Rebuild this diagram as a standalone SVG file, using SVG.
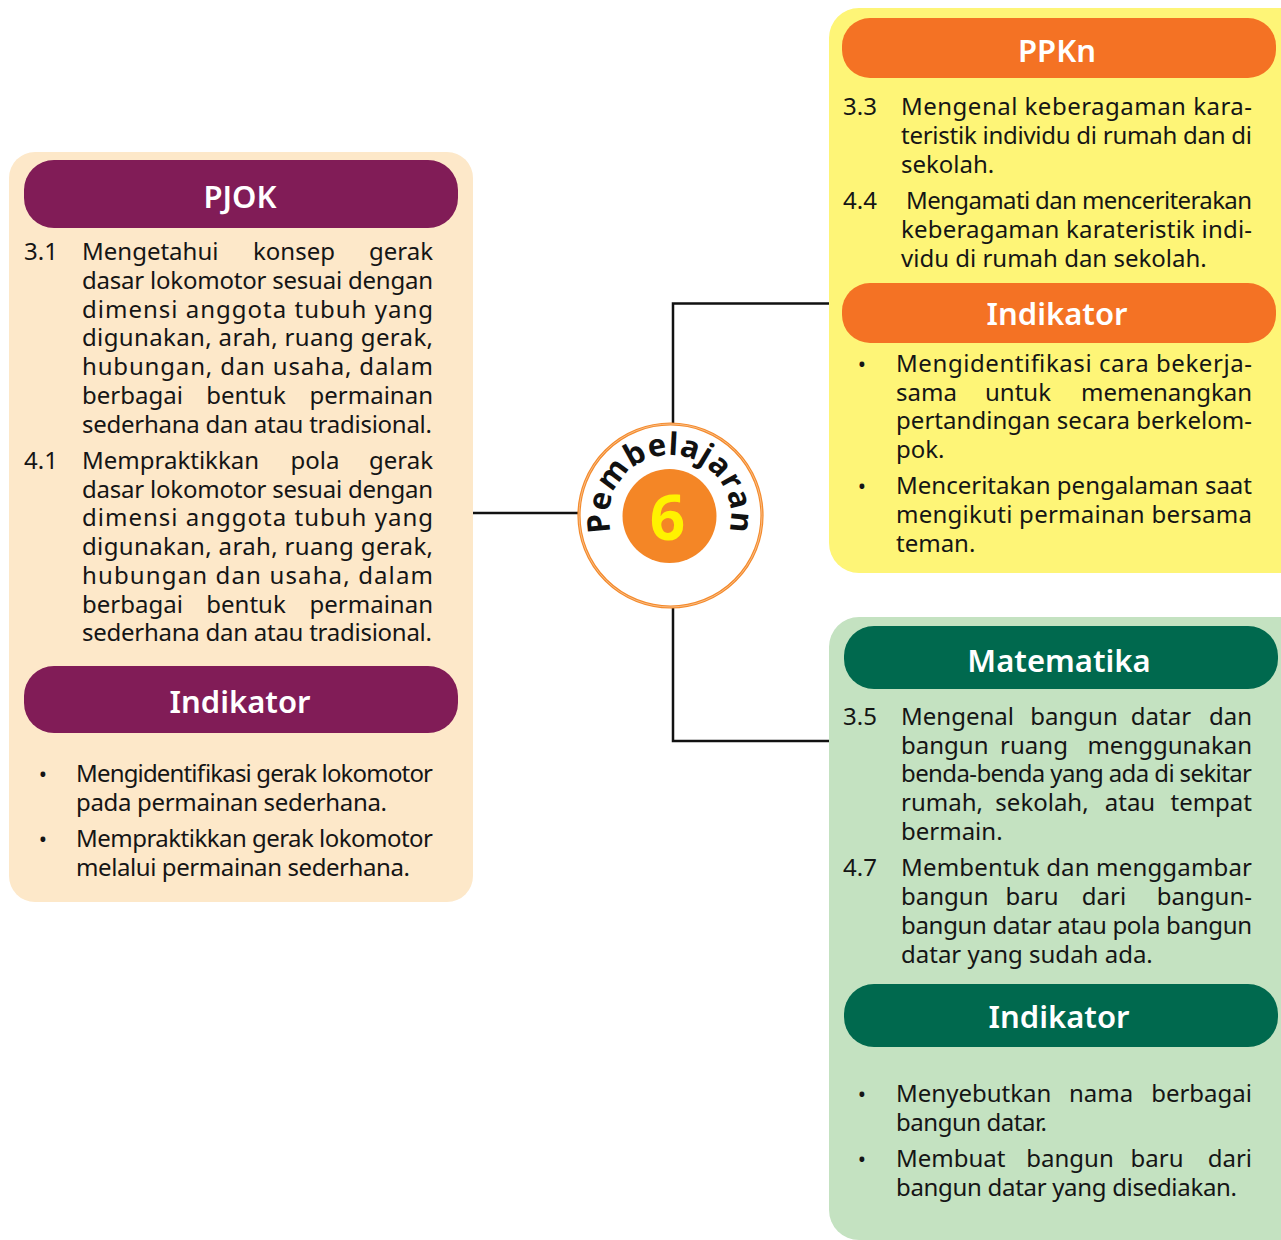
<svg xmlns="http://www.w3.org/2000/svg" width="1281" height="1240" viewBox="0 0 1281 1240">
<defs>
<style>
.b{font-family:"Noto Sans","Open Sans",sans-serif;font-size:24px;fill:#151515}
.m{text-anchor:middle}
.e{text-anchor:end}
.h{font-family:"Noto Sans","Open Sans",sans-serif;font-size:31px;font-weight:600;fill:#ffffff;text-anchor:middle}
.bu{font-family:"Noto Sans","Open Sans",sans-serif;font-size:22px;fill:#151515;text-anchor:middle}
.c{fill:none;stroke:#111111;stroke-width:2.5}
</style>
<path id="arc" d="M612,534.9 A61,61 0 1 1 728,534.9"/>
</defs>
<rect width="1281" height="1240" fill="#ffffff"/>

<g id="connectors">
<path class="c" d="M673,424 V303.5 H829"/>
<path class="c" d="M473,513 H579"/>
<path class="c" d="M673,607 V741 H829"/>
</g>

<g id="pjok">
<rect x="9" y="152" width="464" height="750" rx="26" fill="#fde8c9"/>
<rect x="24" y="160" width="434" height="68" rx="30" fill="#811c57"/>
<text class="h" x="240" y="208">PJOK</text>
<text class="b" x="24" y="260">3.1</text>
<text class="b" x="82" y="260">Mengetahui</text>
<text class="b m" x="294" y="260">konsep</text>
<text class="b e" x="433" y="260">gerak</text>
<text class="b" x="82" y="288.8" textLength="351" lengthAdjust="spacing">dasar lokomotor sesuai dengan</text>
<text class="b" x="82" y="317.6" textLength="351" lengthAdjust="spacing">dimensi anggota tubuh yang</text>
<text class="b" x="82" y="346.4" textLength="351" lengthAdjust="spacing">digunakan, arah, ruang  gerak,</text>
<text class="b" x="82" y="375.2" textLength="351" lengthAdjust="spacing">hubungan, dan usaha, dalam</text>
<text class="b" x="82" y="404">berbagai</text>
<text class="b m" x="246" y="404">bentuk</text>
<text class="b e" x="433" y="404">permainan</text>
<text class="b" x="82" y="432.8" textLength="350" lengthAdjust="spacing">sederhana dan atau tradisional.</text>
<text class="b" x="24" y="469">4.1</text>
<text class="b" x="82" y="469">Mempraktikkan</text>
<text class="b m" x="315" y="469">pola</text>
<text class="b e" x="433" y="469">gerak</text>
<text class="b" x="82" y="497.7" textLength="351" lengthAdjust="spacing">dasar lokomotor sesuai dengan</text>
<text class="b" x="82" y="526.4" textLength="351" lengthAdjust="spacing">dimensi anggota tubuh yang</text>
<text class="b" x="82" y="555.1" textLength="351" lengthAdjust="spacing">digunakan, arah, ruang gerak,</text>
<text class="b" x="82" y="583.8" textLength="351" lengthAdjust="spacing">hubungan dan usaha, dalam</text>
<text class="b" x="82" y="612.5">berbagai</text>
<text class="b m" x="246" y="612.5">bentuk</text>
<text class="b e" x="433" y="612.5">permainan</text>
<text class="b" x="82" y="641.2" textLength="350" lengthAdjust="spacing">sederhana dan atau tradisional.</text>
</g>

<g id="pjok-indikator">
<rect x="24" y="666" width="434" height="67" rx="30" fill="#811c57"/>
<text class="h" x="240" y="713">Indikator</text>
<text class="bu" x="43" y="782">•</text>
<text class="b" x="76" y="782" textLength="357" lengthAdjust="spacing">Mengidentifikasi gerak lokomotor</text>
<text class="b" x="76" y="811" textLength="311" lengthAdjust="spacing">pada permainan sederhana.</text>
<text class="bu" x="43" y="847">•</text>
<text class="b" x="76" y="847" textLength="357" lengthAdjust="spacing">Mempraktikkan gerak lokomotor</text>
<text class="b" x="76" y="876" textLength="334" lengthAdjust="spacing">melalui permainan sederhana.</text>
</g>

<g id="ppkn">
<rect x="829" y="8" width="480" height="565" rx="30" fill="#fef577"/>
<rect x="842" y="18" width="434" height="60" rx="28" fill="#f47224"/>
<text class="h" x="1057" y="62">PPKn</text>
<text class="b" x="843" y="115">3.3</text>
<text class="b" x="901" y="115" textLength="351" lengthAdjust="spacing">Mengenal keberagaman kara-</text>
<text class="b" x="901" y="144" textLength="351" lengthAdjust="spacing">teristik individu di rumah dan di</text>
<text class="b" x="901" y="173">sekolah.</text>
<text class="b" x="843" y="209">4.4</text>
<text class="b" x="906" y="209" textLength="346" lengthAdjust="spacing">Mengamati dan menceriterakan</text>
<text class="b" x="901" y="238" textLength="351" lengthAdjust="spacing">keberagaman karateristik indi-</text>
<text class="b" x="901" y="267">vidu di rumah dan sekolah.</text>
</g>

<g id="ppkn-indikator">
<rect x="842" y="283" width="434" height="60" rx="28" fill="#f47224"/>
<text class="h" x="1057" y="325">Indikator</text>
<text class="bu" x="862" y="372">•</text>
<text class="b" x="896" y="372" textLength="356" lengthAdjust="spacing">Mengidentifikasi cara bekerja-</text>
<text class="b" x="896" y="401">sama</text>
<text class="b m" x="1018" y="401">untuk</text>
<text class="b e" x="1252" y="401">memenangkan</text>
<text class="b" x="896" y="429" textLength="356" lengthAdjust="spacing">pertandingan secara berkelom-</text>
<text class="b" x="896" y="458">pok.</text>
<text class="bu" x="862" y="494">•</text>
<text class="b" x="896" y="494" textLength="356" lengthAdjust="spacing">Menceritakan pengalaman saat</text>
<text class="b" x="896" y="523" textLength="356" lengthAdjust="spacing">mengikuti permainan bersama</text>
<text class="b" x="896" y="552">teman.</text>
</g>

<g id="matematika">
<rect x="829" y="617" width="480" height="623" rx="30" fill="#c4e2c1"/>
<rect x="844" y="626" width="434" height="63" rx="30" fill="#00694e"/>
<text class="h" x="1059" y="672">Matematika</text>
<text class="b" x="843" y="725">3.5</text>
<text class="b" x="901" y="725">Mengenal</text>
<text class="b m" x="1074" y="725">bangun</text>
<text class="b m" x="1161" y="725">datar</text>
<text class="b e" x="1252" y="725">dan</text>
<text class="b" x="901" y="754">bangun</text>
<text class="b m" x="1034" y="754">ruang</text>
<text class="b e" x="1252" y="754">menggunakan</text>
<text class="b" x="901" y="782" textLength="351" lengthAdjust="spacing">benda-benda yang ada di sekitar</text>
<text class="b" x="901" y="811">rumah,</text>
<text class="b m" x="1042" y="811">sekolah,</text>
<text class="b m" x="1130" y="811">atau</text>
<text class="b e" x="1252" y="811">tempat</text>
<text class="b" x="901" y="840">bermain.</text>
<text class="b" x="843" y="876">4.7</text>
<text class="b" x="901" y="876" textLength="351" lengthAdjust="spacing">Membentuk dan menggambar</text>
<text class="b" x="901" y="905">bangun</text>
<text class="b m" x="1032" y="905">baru</text>
<text class="b m" x="1104" y="905">dari</text>
<text class="b e" x="1252" y="905">bangun-</text>
<text class="b" x="901" y="934" textLength="351" lengthAdjust="spacing">bangun datar atau pola bangun</text>
<text class="b" x="901" y="963">datar yang sudah ada.</text>
</g>

<g id="matematika-indikator">
<rect x="844" y="984" width="434" height="63" rx="30" fill="#00694e"/>
<text class="h" x="1059" y="1028">Indikator</text>
<text class="bu" x="862" y="1102">•</text>
<text class="b" x="896" y="1102">Menyebutkan</text>
<text class="b m" x="1101" y="1102">nama</text>
<text class="b e" x="1252" y="1102">berbagai</text>
<text class="b" x="896" y="1131" textLength="151" lengthAdjust="spacing">bangun datar.</text>
<text class="bu" x="862" y="1167">•</text>
<text class="b" x="896" y="1167">Membuat</text>
<text class="b m" x="1070" y="1167">bangun</text>
<text class="b m" x="1157" y="1167">baru</text>
<text class="b e" x="1252" y="1167">dari</text>
<text class="b" x="896" y="1196" textLength="341" lengthAdjust="spacing">bangun datar yang disediakan.</text>
</g>

<g id="pembelajaran">
<circle cx="670.5" cy="515.5" r="91.5" fill="#ffffff" stroke="#f48a2b" stroke-width="3.2"/>
<circle cx="670.5" cy="515.5" r="91.5" fill="none" stroke="#fbd3ae" stroke-width="0.7"/>
<circle cx="669.5" cy="516" r="47" fill="#f48626"/>
<text font-family="Noto Sans,Open Sans,sans-serif" font-size="31" font-weight="700" fill="#111111" letter-spacing="0.8"><textPath href="#arc" startOffset="50%" text-anchor="middle">Pembelajaran</textPath></text>
<text x="667.5" y="540" font-family="Noto Sans,Open Sans,sans-serif" font-size="62" font-weight="700" fill="#fff200" text-anchor="middle">6</text>
</g>
</svg>
